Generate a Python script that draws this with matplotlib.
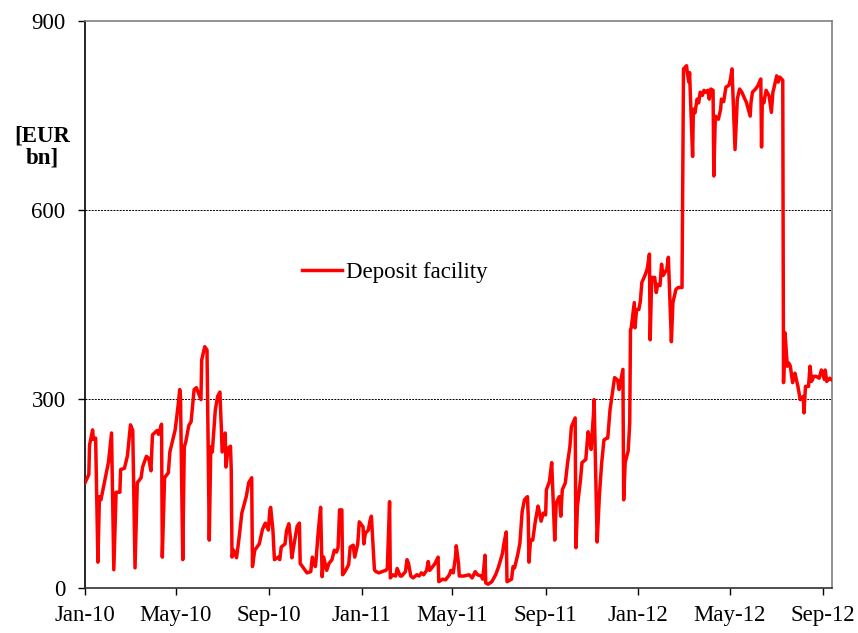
import numpy as np
import pandas as pd
import matplotlib
matplotlib.use("Agg")
import matplotlib.pyplot as plt
import matplotlib.dates as mdates

plt.rcParams['font.family'] = ['Liberation Serif', 'DejaVu Serif']

# deposit facility, EUR bn
dates_2010 = ['2010-01-01', '2010-01-06', '2010-01-07', '2010-01-11', '2010-01-12', '2010-01-15', '2010-01-18',
              '2010-01-20', '2010-01-22', '2010-01-27', '2010-02-01', '2010-02-05', '2010-02-08', '2010-02-11',
              '2010-02-16', '2010-02-17', '2010-02-22', '2010-02-26', '2010-03-02', '2010-03-05', '2010-03-08',
              '2010-03-11', '2010-03-16', '2010-03-18', '2010-03-23', '2010-03-26', '2010-03-29', '2010-03-31',
              '2010-04-06', '2010-04-08', '2010-04-12', '2010-04-13', '2010-04-16', '2010-04-21', '2010-04-23',
              '2010-04-30', '2010-05-04', '2010-05-06', '2010-05-07', '2010-05-10', '2010-05-12', '2010-05-14',
              '2010-05-18', '2010-05-21', '2010-05-25', '2010-05-28', '2010-06-01', '2010-06-03', '2010-06-04',
              '2010-06-08', '2010-06-11', '2010-06-14', '2010-06-16', '2010-06-18', '2010-06-22', '2010-06-25',
              '2010-06-28', '2010-06-30', '2010-07-01', '2010-07-05', '2010-07-06', '2010-07-09', '2010-07-12',
              '2010-07-13', '2010-07-14', '2010-07-16', '2010-07-20', '2010-07-23', '2010-07-27', '2010-08-02',
              '2010-08-05', '2010-08-09', '2010-08-10', '2010-08-13', '2010-08-19', '2010-08-23', '2010-08-25',
              '2010-08-27', '2010-08-31', '2010-09-02', '2010-09-03', '2010-09-06', '2010-09-08', '2010-09-13',
              '2010-09-15', '2010-09-17', '2010-09-22', '2010-09-24', '2010-09-27', '2010-09-29', '2010-10-01',
              '2010-10-04', '2010-10-08', '2010-10-11', '2010-10-12', '2010-10-15', '2010-10-21', '2010-10-26',
              '2010-10-28', '2010-11-01', '2010-11-02', '2010-11-05', '2010-11-08', '2010-11-10', '2010-11-12',
              '2010-11-16', '2010-11-19', '2010-11-23', '2010-11-26', '2010-11-29', '2010-12-01', '2010-12-03',
              '2010-12-06', '2010-12-07', '2010-12-10', '2010-12-15', '2010-12-17', '2010-12-21', '2010-12-23',
              '2010-12-27', '2010-12-29']
values_2010 = [167, 180, 227, 251, 236, 238, 41,
               145, 140, 170, 200, 246, 29, 152,
               152, 188, 190, 210, 259, 250, 32,
               167, 175, 192, 209, 206, 186, 243,
               250, 244, 260, 49, 175, 183, 216,
               251, 291, 315, 305, 45, 224, 232,
               258, 264, 315, 318, 305, 299, 362,
               383, 378, 76, 224, 216, 283, 304,
               311, 252, 216, 246, 192, 222, 225,
               188, 49, 60, 48, 76, 119, 146,
               167, 175, 34, 60, 70, 92, 98,
               103, 92, 124, 128, 92, 45, 49,
               45, 65, 70, 91, 102, 81, 48,
               70, 98, 103, 39, 34, 24, 26,
               49, 34, 45, 92, 128, 18, 49,
               28, 39, 45, 60, 57, 64, 124,
               124, 21, 26, 37, 65, 68, 49,
               70, 105]

dates_2011 = ['2011-01-03', '2011-01-04', '2011-01-06', '2011-01-10', '2011-01-12', '2011-01-14', '2011-01-18',
              '2011-01-20', '2011-01-24', '2011-01-28', '2011-02-02', '2011-02-04', '2011-02-07', '2011-02-08',
              '2011-02-11', '2011-02-15', '2011-02-17', '2011-02-21', '2011-02-23', '2011-02-28', '2011-03-02',
              '2011-03-04', '2011-03-07', '2011-03-10', '2011-03-15', '2011-03-18', '2011-03-21', '2011-03-24',
              '2011-03-28', '2011-03-30', '2011-04-01', '2011-04-05', '2011-04-08', '2011-04-12', '2011-04-13',
              '2011-04-18', '2011-04-22', '2011-04-27', '2011-04-29', '2011-05-02', '2011-05-05', '2011-05-06',
              '2011-05-09', '2011-05-10', '2011-05-16', '2011-05-23', '2011-05-27', '2011-05-31', '2011-06-03',
              '2011-06-08', '2011-06-10', '2011-06-13', '2011-06-14', '2011-06-17', '2011-06-22', '2011-06-27',
              '2011-07-01', '2011-07-06', '2011-07-08', '2011-07-11', '2011-07-12', '2011-07-15', '2011-07-18',
              '2011-07-20', '2011-07-22', '2011-07-26', '2011-07-29', '2011-08-01', '2011-08-04', '2011-08-08',
              '2011-08-09', '2011-08-10', '2011-08-12', '2011-08-15', '2011-08-18', '2011-08-22', '2011-08-24',
              '2011-08-26', '2011-08-29', '2011-09-01', '2011-09-02', '2011-09-06', '2011-09-09', '2011-09-13',
              '2011-09-15', '2011-09-19', '2011-09-21', '2011-09-23', '2011-09-27', '2011-09-30', '2011-10-03',
              '2011-10-05', '2011-10-10', '2011-10-11', '2011-10-13', '2011-10-17', '2011-10-19', '2011-10-24',
              '2011-10-27', '2011-10-28', '2011-10-31', '2011-11-03', '2011-11-04', '2011-11-08', '2011-11-11',
              '2011-11-14', '2011-11-17', '2011-11-21', '2011-11-22', '2011-11-25', '2011-12-01', '2011-12-05',
              '2011-12-07', '2011-12-12', '2011-12-13', '2011-12-15', '2011-12-19', '2011-12-21', '2011-12-22',
              '2011-12-23', '2011-12-27', '2011-12-28', '2011-12-30']
values_2011 = [97, 70, 87, 92, 106, 114, 29,
               26, 24, 26, 28, 31, 137, 16,
               21, 19, 31, 19, 19, 26, 45,
               39, 19, 16, 21, 19, 24, 21,
               28, 42, 28, 34, 39, 49, 10,
               14, 13, 21, 28, 24, 49, 67,
               39, 19, 19, 21, 16, 26, 21,
               19, 14, 52, 8, 6, 10, 21,
               34, 55, 71, 89, 10, 12, 14,
               34, 32, 52, 71, 121, 140, 145,
               114, 41, 76, 76, 103, 130, 119,
               106, 119, 116, 156, 169, 199, 76,
               135, 145, 114, 156, 167, 199, 224,
               256, 270, 64, 130, 172, 199, 204,
               248, 243, 220, 273, 299, 73, 148,
               199, 235, 238, 238, 283, 334, 330,
               315, 347, 140, 199, 218, 262, 410,
               413, 453, 413, 442]

dates_2012 = ['2012-01-02', '2012-01-04', '2012-01-06', '2012-01-10', '2012-01-13', '2012-01-16', '2012-01-17',
              '2012-01-19', '2012-01-23', '2012-01-25', '2012-01-27', '2012-01-30', '2012-02-01', '2012-02-03',
              '2012-02-08', '2012-02-10', '2012-02-14', '2012-02-16', '2012-02-20', '2012-02-23', '2012-02-28',
              '2012-03-01', '2012-03-05', '2012-03-06', '2012-03-08', '2012-03-09', '2012-03-13', '2012-03-14',
              '2012-03-16', '2012-03-19', '2012-03-21', '2012-03-23', '2012-03-26', '2012-03-28', '2012-03-30',
              '2012-04-02', '2012-04-04', '2012-04-06', '2012-04-09', '2012-04-10', '2012-04-12', '2012-04-16',
              '2012-04-19', '2012-04-20', '2012-04-23', '2012-04-26', '2012-04-30', '2012-05-02', '2012-05-04',
              '2012-05-08', '2012-05-11', '2012-05-14', '2012-05-17', '2012-05-21', '2012-05-23', '2012-05-28',
              '2012-05-29', '2012-05-31', '2012-06-04', '2012-06-07', '2012-06-11', '2012-06-12', '2012-06-13',
              '2012-06-15', '2012-06-18', '2012-06-22', '2012-06-25', '2012-06-27', '2012-06-29', '2012-07-02',
              '2012-07-04', '2012-07-06', '2012-07-10', '2012-07-11', '2012-07-13', '2012-07-16', '2012-07-18',
              '2012-07-20', '2012-07-23', '2012-07-26', '2012-07-27', '2012-07-30', '2012-08-02', '2012-08-06',
              '2012-08-07', '2012-08-09', '2012-08-13', '2012-08-15', '2012-08-17', '2012-08-20', '2012-08-23',
              '2012-08-27', '2012-08-30', '2012-09-03', '2012-09-04', '2012-09-06', '2012-09-10', '2012-09-12']
values_2012 = [442, 455, 485, 496, 506, 530, 394,
               493, 493, 469, 482, 480, 514, 496,
               506, 525, 391, 453, 474, 477, 477,
               824, 829, 818, 803, 818, 685, 760,
               754, 776, 770, 787, 782, 790, 787,
               790, 776, 792, 790, 654, 749, 744,
               760, 776, 772, 795, 798, 808, 824,
               696, 776, 792, 787, 776, 771, 749,
               770, 787, 792, 797, 808, 700, 776,
               770, 790, 781, 755, 787, 797, 813,
               803, 811, 806, 326, 405, 352, 357,
               352, 326, 341, 336, 320, 299, 304,
               278, 320, 320, 352, 328, 336, 336,
               333, 346, 331, 346, 328, 333, 331]

y_ticks = [0, 300, 600, 900]
x_tick_dates = ['2010-01-01', '2010-05-01', '2010-09-01', '2011-01-01', '2011-05-01',
                '2011-09-01', '2012-01-01', '2012-05-01', '2012-09-01']

dates = pd.to_datetime(dates_2010 + dates_2011 + dates_2012)
values = values_2010 + values_2011 + values_2012

fig = plt.figure(figsize=(8.58, 6.33), dpi=100)
ax = fig.add_axes([0.0991, 0.0711, 0.8706, 0.8957])

ax.plot(dates, values, color='#ff0000', lw=2.5, label='Deposit facility', zorder=3)

# dotted reference lines at the inner ticks
for y in y_ticks[1:-1]:
    ax.axhline(y, color='black', lw=0.7, ls=(0, (2, 1.2)), zorder=1)

ax.set_ylim(0, 900)
ax.set_xlim(pd.Timestamp('2010-01-01'), pd.Timestamp('2012-09-13'))
ax.set_yticks(y_ticks)
ax.set_xticks(pd.to_datetime(x_tick_dates))
ax.xaxis.set_major_formatter(mdates.DateFormatter('%b-%y'))

ax.tick_params(axis='both', labelsize=16.5, direction='out', length=5, width=1, colors='black')
ax.tick_params(axis='y', pad=9)
ax.tick_params(axis='x', pad=7)

ax.spines['left'].set_color('black')
ax.spines['bottom'].set_color('#303030')
ax.spines['top'].set_color('#808080')
ax.spines['right'].set_color('#808080')
for s in ax.spines.values():
    s.set_linewidth(1.2)

fig.text(42 / 858, 1 - 147 / 633, '[EUR\nbn]', ha='center', va='center',
         fontsize=16.5, fontweight='bold', linespacing=1.1)

ax.legend(loc='center left', bbox_to_anchor=(0.29, 0.557), frameon=False,
          fontsize=16.5, handlelength=1.75, handletextpad=0.2,
          borderpad=0, borderaxespad=0)

fig.savefig('out.png', dpi=100)
